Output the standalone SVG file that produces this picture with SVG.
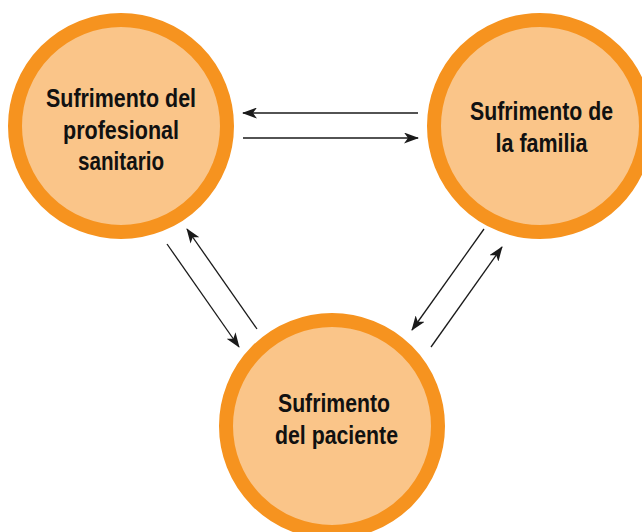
<svg xmlns="http://www.w3.org/2000/svg" width="642" height="532" viewBox="0 0 642 532">
<defs>
<style>
.node circle{fill:#FAC589;stroke:#F6931F;stroke-width:14}
.node text{font-family:"Liberation Sans",Arial,sans-serif;font-weight:bold;font-size:25px;fill:#111;text-anchor:middle}
.conn line{stroke:#1a1a1a;stroke-width:1.3;fill:none;marker-end:url(#ah)}
</style>
<marker id="ah" viewBox="0 0 15 11" refX="14" refY="5.5" markerWidth="15" markerHeight="11" markerUnits="userSpaceOnUse" orient="auto">
<path d="M0,0 L15,5.5 L0,11 L4,5.5 Z" fill="#1a1a1a"/>
</marker>
</defs>
<rect width="642" height="532" fill="#fff"/>
<g id="n-profesional" class="node">
<circle cx="121" cy="126" r="106"/>
<text x="121" y="107" textLength="150" lengthAdjust="spacingAndGlyphs">Sufrimento del</text>
<text x="121" y="139" textLength="116" lengthAdjust="spacingAndGlyphs">profesional</text>
<text x="121" y="170" textLength="86" lengthAdjust="spacingAndGlyphs">sanitario</text>
</g>
<g id="n-familia" class="node">
<circle cx="540" cy="126" r="106"/>
<text x="541.5" y="120" textLength="143" lengthAdjust="spacingAndGlyphs">Sufrimento de</text>
<text x="541.5" y="152" textLength="92" lengthAdjust="spacingAndGlyphs">la familia</text>
</g>
<g id="n-paciente" class="node">
<circle cx="332" cy="426" r="106"/>
<text x="334" y="412" textLength="112" lengthAdjust="spacingAndGlyphs">Sufrimento</text>
<text x="336.5" y="444" textLength="123" lengthAdjust="spacingAndGlyphs">del paciente</text>
</g>
<g id="connectors" class="conn">
<line x1="418" y1="113" x2="243" y2="113"/>
<line x1="243" y1="138" x2="418" y2="138"/>
<line x1="167" y1="244" x2="239" y2="347"/>
<line x1="257" y1="329" x2="187" y2="229"/>
<line x1="484" y1="229" x2="412" y2="330"/>
<line x1="431" y1="347" x2="502" y2="247"/>
</g>
</svg>
